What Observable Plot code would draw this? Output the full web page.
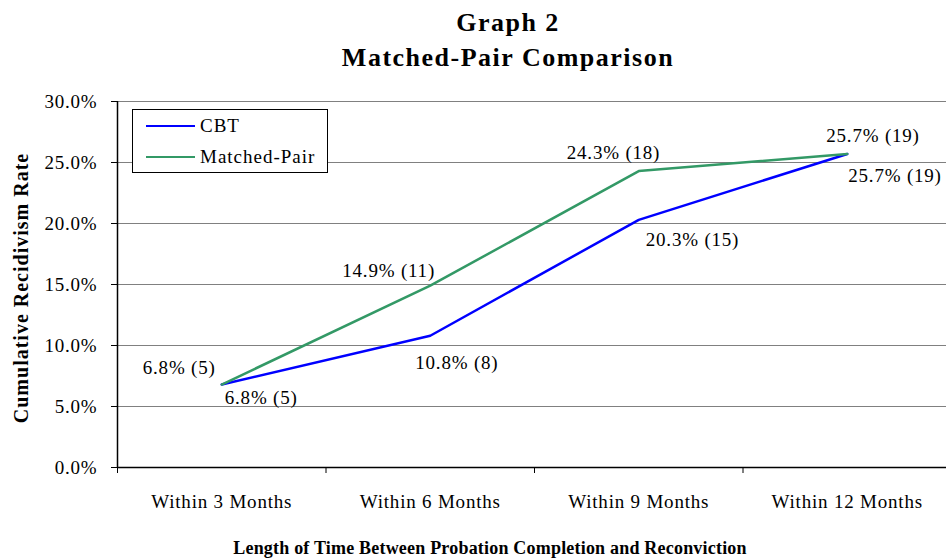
<!DOCTYPE html>
<html>
<head>
<meta charset="utf-8">
<script src="https://cdn.jsdelivr.net/npm/d3@7"></script>
<script src="https://cdn.jsdelivr.net/npm/@observablehq/plot@0.6"></script>
<style>
  html, body { margin: 0; padding: 0; background: #fff; }
  #wrap { position: relative; width: 946px; height: 560px; overflow: hidden; font-family: "Liberation Serif", "Times New Roman", serif; color: #000; }
  #title { height: 90px; box-sizing: border-box; padding-top: 5px; text-align: center; font-weight: bold; font-size: 26px; line-height: 35px; letter-spacing: 1.5px; width: 1016px; }
  #ylabel { position: absolute; left: 21px; top: 288px; transform: translate(-50%, -50%) rotate(-90deg); white-space: nowrap; font-weight: bold; font-size: 20px; letter-spacing: 1px; }
  #xlabel { position: absolute; left: 230px; width: 520px; top: 538px; text-align: center; white-space: nowrap; font-weight: bold; font-size: 18px; letter-spacing: 0.2px; }
  #legend { position: absolute; left: 132px; top: 109px; width: 196px; height: 64px; border: 1px solid #000; background: #fff; box-sizing: border-box; font-size: 19px; letter-spacing: 1px; }
  .item { position: absolute; left: 13px; height: 22px; display: flex; align-items: center; }
  .swatch { width: 49px; height: 0; border-top: 2.5px solid; margin-right: 5px; }
  #chart svg { display: block; }
</style>
</head>
<body>
<div id="wrap">
  <div id="title">Graph 2<br>Matched-Pair Comparison</div>
  <div id="chart"></div>
  <div id="ylabel">Cumulative Recidivism Rate</div>
  <div id="xlabel">Length of Time Between Probation Completion and Reconviction</div>
  <div id="legend"></div>
</div>
<script>
// ---- data ----
const categories = ["Within 3 Months", "Within 6 Months", "Within 9 Months", "Within 12 Months"];
const seriesNames = ["CBT", "Matched-Pair"];
const cbtRates = [6.8, 10.8, 20.3, 25.7];
const cbtCounts = [5, 8, 15, 19];
const matchedRates = [6.8, 14.9, 24.3, 25.7];
const matchedCounts = [5, 11, 18, 19];
const yTicks = [0, 5, 10, 15, 20, 25, 30];

// ---- styles ----
const colors = { "CBT": "#0000ff", "Matched-Pair": "#339966" };
const labelOffsets = {
  "CBT": [[3, 13], [-15, 27], [7, 20], [1, 22]],
  "Matched-Pair": [[-79, -17], [-88, -15], [-72, -18], [-21, -18]]
};

const rows = [];
categories.forEach((c, i) => {
  rows.push({ series: "CBT", idx: i + 1, rate: cbtRates[i] / 100, count: cbtCounts[i] });
  rows.push({ series: "Matched-Pair", idx: i + 1, rate: matchedRates[i] / 100, count: matchedCounts[i] });
});

const fmtPct = d3.format(".1%");
const tickVals = yTicks.map(v => v / 100);

const labelMarks = rows.map(r => {
  const [dx, dy] = labelOffsets[r.series][r.idx - 1];
  return Plot.text([r], {
    x: "idx", y: "rate",
    text: d => `${fmtPct(d.rate)} (${d.count})`,
    textAnchor: "start", dx, dy, fill: "#000", fontSize: 19
  });
});

const chart = Plot.plot({
  width: 946,
  height: 470,
  marginTop: 11,
  marginBottom: 93,
  marginLeft: 117,
  marginRight: 0,
  style: { fontFamily: "Liberation Serif, Times New Roman, serif", fontSize: "19px", letterSpacing: "0.8px", color: "#000", background: "#fff" },
  x: { domain: [0.5, categories.length + 0.5], range: [117, 951] },
  y: { domain: [0, 0.30] },
  marks: [
    Plot.gridY(tickVals, { stroke: "#808080", strokeOpacity: 1, strokeWidth: 1 }),
    Plot.axisY({ ticks: tickVals, tickFormat: fmtPct, tickSize: 6, tickPadding: 14, label: null, stroke: "#000" }),
    Plot.axisX({ ticks: d3.range(0.5, categories.length + 1, 1), tickFormat: () => "", tickSize: 6, label: null, stroke: "#000" }),
    Plot.axisX({ ticks: d3.range(1, categories.length + 1), tickFormat: d => categories[d - 1], tickSize: 0, tickPadding: 27, label: null }),
    Plot.ruleX([0.5], { stroke: "#000", strokeWidth: 1.5 }),
    Plot.ruleY([0], { stroke: "#000", strokeWidth: 1.5 }),
    Plot.line(rows, { x: "idx", y: "rate", z: "series", stroke: d => colors[d.series], strokeWidth: 2.5 }),
    ...labelMarks
  ]
});
document.getElementById("chart").appendChild(chart);

// legend
const legend = document.getElementById("legend");
seriesNames.forEach((s, i) => {
  const it = document.createElement("div");
  it.className = "item";
  it.style.top = (5 + i * 31) + "px";
  const sw = document.createElement("span");
  sw.className = "swatch";
  sw.style.borderColor = colors[s];
  const t = document.createElement("span");
  t.textContent = s;
  it.appendChild(sw);
  it.appendChild(t);
  legend.appendChild(it);
});
</script>
</body>
</html>
